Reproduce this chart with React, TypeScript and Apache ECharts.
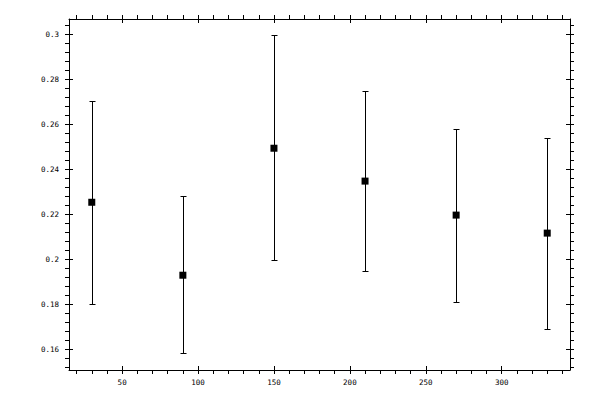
import { useEffect, useRef } from "react";
import * as echarts from "echarts";

const X_VALUES = [30, 90, 150, 210, 270, 330];
const MEANS = [0.2253, 0.1929, 0.2493, 0.2347, 0.2196, 0.2116];
const LOWER = [0.18, 0.1582, 0.1996, 0.1947, 0.1809, 0.1689];
const UPPER = [0.2702, 0.228, 0.2996, 0.2747, 0.2578, 0.2538];

// axis ticks
const X_TICKS = [50, 100, 150, 200, 250, 300];
const Y_TICKS = [0.16, 0.18, 0.2, 0.22, 0.24, 0.26, 0.28, 0.3];
const X_ALL_TICKS = [
  20, 30, 40, 50, 60, 70, 80, 90, 100, 110, 120, 130, 140, 150, 160, 170, 180,
  190, 200, 210, 220, 230, 240, 250, 260, 270, 280, 290, 300, 310, 320, 330, 340,
];
const Y_ALL_TICKS = Array.from({ length: 39 }, (_, i) => +((38 + i) * 0.004).toFixed(3));

const X_MIN = 15;
const X_MAX = 345;
const Y_MIN = 0.1508;
const Y_MAX = 0.3067;

const LABEL_FONT = { fontFamily: "'DejaVu Sans Mono', monospace", fontSize: 7.5, color: "#000" };

function makeAxis(
  kind: "x" | "y",
  position: string,
  ticks: number[],
  inside: boolean,
  labels: number[] | null
) {
  const isX = kind === "x";
  return {
    type: "value",
    position,
    min: isX ? X_MIN : Y_MIN,
    max: isX ? X_MAX : Y_MAX,
    axisLine: { show: !inside, onZero: false, lineStyle: { color: "#000", width: 1 } },
    axisTick: {
      show: true,
      inside,
      length: 4,
      customValues: ticks,
      lineStyle: { color: "#000", width: 1 },
    },
    axisLabel: labels
      ? {
          show: true,
          customValues: labels,
          margin: isX ? 8 : 10,
          formatter: (v: number) => String(v),
          ...LABEL_FONT,
        }
      : { show: false },
    splitLine: { show: false },
  };
}

// snap to pixel centre so 1px strokes stay crisp
const crisp = (v: number) => Math.round(v) + 0.5;

export default function App() {
  const chartRef = useRef<HTMLDivElement>(null);

  useEffect(() => {
    if (!chartRef.current) return;
    const chart = echarts.init(chartRef.current, undefined, { renderer: "svg" });

    const errorData = X_VALUES.map((x, i) => [x, LOWER[i], UPPER[i]]);
    const pointData = X_VALUES.map((x, i) => [x, MEANS[i]]);

    chart.setOption({
      animation: false,
      backgroundColor: "#fff",
      grid: { left: 69, right: 30, top: 19, bottom: 30, containLabel: false },
      xAxis: [
        makeAxis("x", "bottom", X_ALL_TICKS, false, X_TICKS),
        makeAxis("x", "bottom", X_TICKS, true, null),
        makeAxis("x", "top", X_ALL_TICKS, false, null),
        makeAxis("x", "top", X_TICKS, true, null),
      ],
      yAxis: [
        makeAxis("y", "left", Y_ALL_TICKS, false, Y_TICKS),
        makeAxis("y", "left", Y_TICKS, true, null),
        makeAxis("y", "right", Y_ALL_TICKS, false, null),
        makeAxis("y", "right", Y_TICKS, true, null),
      ],
      series: [
        {
          type: "custom",
          xAxisIndex: 0,
          yAxisIndex: 0,
          encode: { x: 0, y: [1, 2] },
          data: errorData,
          renderItem: (_params: any, api: any) => {
            const x = api.value(0);
            const lo = api.coord([x, api.value(1)]);
            const hi = api.coord([x, api.value(2)]);
            const cx = crisp(hi[0]);
            const yHi = crisp(hi[1]);
            const yLo = crisp(lo[1]);
            const hw = 3;
            const style = { stroke: "#000", lineWidth: 1, opacity: 1 };
            return {
              type: "group",
              children: [
                { type: "line", shape: { x1: cx, y1: yHi, x2: cx, y2: yLo }, style },
                { type: "line", shape: { x1: cx - hw, y1: yHi, x2: cx + hw, y2: yHi }, style },
                { type: "line", shape: { x1: cx - hw, y1: yLo, x2: cx + hw, y2: yLo }, style },
              ],
            };
          },
          z: 2,
        },
        {
          type: "scatter",
          xAxisIndex: 0,
          yAxisIndex: 0,
          symbol: "rect",
          symbolSize: 7,
          itemStyle: { color: "#000", opacity: 1 },
          data: pointData,
          z: 3,
        },
      ],
    });

    return () => {
      chart.dispose();
    };
  }, []);

  return (
    <div
      ref={chartRef}
      style={{ position: "fixed", left: 0, top: 0, width: 600, height: 400, background: "#fff" }}
    />
  );
}
